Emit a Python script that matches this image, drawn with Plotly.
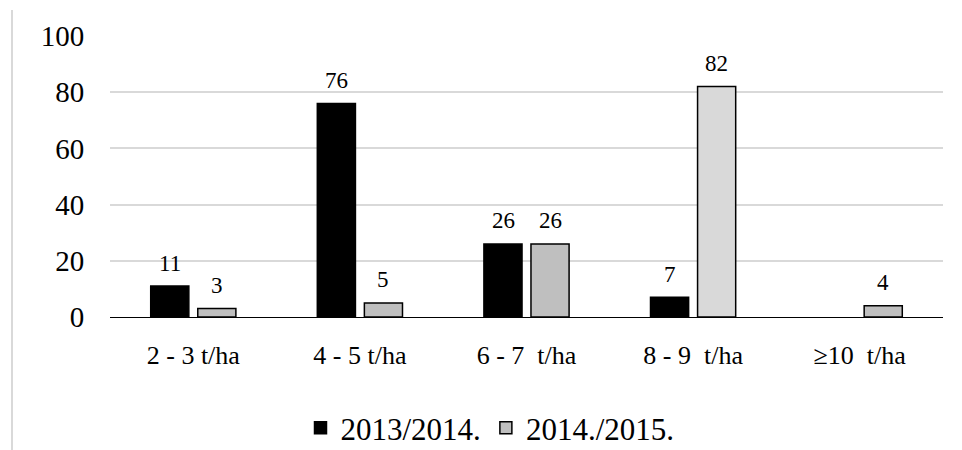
import plotly.graph_objects as go

categories = ["2 - 3 t/ha", "4 - 5 t/ha", "6 - 7  t/ha", "8 - 9  t/ha", "≥10  t/ha"]
series_names = ["2013/2014.", "2014./2015."]
values_2013 = [11, 76, 26, 7, None]
values_2014 = [3, 5, 26, 82, 4]
y_ticks = [0, 20, 40, 60, 80, 100]

FONT = "Liberation Serif, Times New Roman, DejaVu Serif, serif"
GRAY_2014 = ["#bfbfbf", "#bfbfbf", "#bfbfbf", "#d9d9d9", "#bfbfbf"]

fig = go.Figure()
fig.add_trace(go.Bar(
    x=categories, y=values_2013, name=series_names[0],
    marker=dict(color="#000000", line=dict(color="#000000", width=1.5)),
))
fig.add_trace(go.Bar(
    x=categories, y=values_2014, name=series_names[1],
    marker=dict(color=GRAY_2014, line=dict(color="#000000", width=1.5)),
))

# data labels placed above bars (Excel-like padding)
for vals, xs in ((values_2013, -23.5), (values_2014, 23.5)):
    for c, v in zip(categories, vals):
        if v is None:
            continue
        fig.add_annotation(x=c, y=v, xref="x", yref="y", text=str(v), showarrow=False,
                           xshift=xs, yshift=23, font=dict(family=FONT, size=23, color="#000000"))

L, R, T, B = 110, 962 - 943, 36, 450 - 317
fig.update_layout(
    width=962, height=450,
    margin=dict(l=L, r=R, t=T, b=B, pad=0, autoexpand=False),
    paper_bgcolor="white", plot_bgcolor="white",
    barmode="group", bargap=0.435, bargroupgap=0.19,
    font=dict(family=FONT, size=23, color="#000000"),
    showlegend=True,
    legend=dict(orientation="h", x=(490 - L) / (962 - L - R), xanchor="center",
                y=(317 - 428) / (317 - 36), yanchor="middle",
                font=dict(family=FONT, size=31, color="#000000"),
                itemwidth=30, traceorder="normal"),
    shapes=[dict(type="line", xref="paper", yref="paper",
                 x0=(12 - L) / (962 - L - R), x1=(12 - L) / (962 - L - R),
                 y0=(317 - 10) / (317 - 36), y1=(317 - 452) / (317 - 36),
                 line=dict(color="#d9d9d9", width=2))],
)
fig.update_xaxes(showgrid=False, showline=True, linecolor="#000000", linewidth=1.2,
                 ticks="outside", ticklen=15, tickcolor="rgba(0,0,0,0)",
                 tickfont=dict(family=FONT, size=26, color="#000000"), automargin=False)
fig.update_yaxes(range=[0, 100], tickvals=y_ticks, showgrid=True, gridcolor="#d9d9d9",
                 gridwidth=1.5, zeroline=False, showline=False,
                 ticks="outside", ticklen=19, tickcolor="rgba(0,0,0,0)",
                 tickfont=dict(family=FONT, size=29, color="#000000"), automargin=False)

fig.write_html("out.html", config={"displayModeBar": False},
               post_script="document.body.style.margin='0px';")
